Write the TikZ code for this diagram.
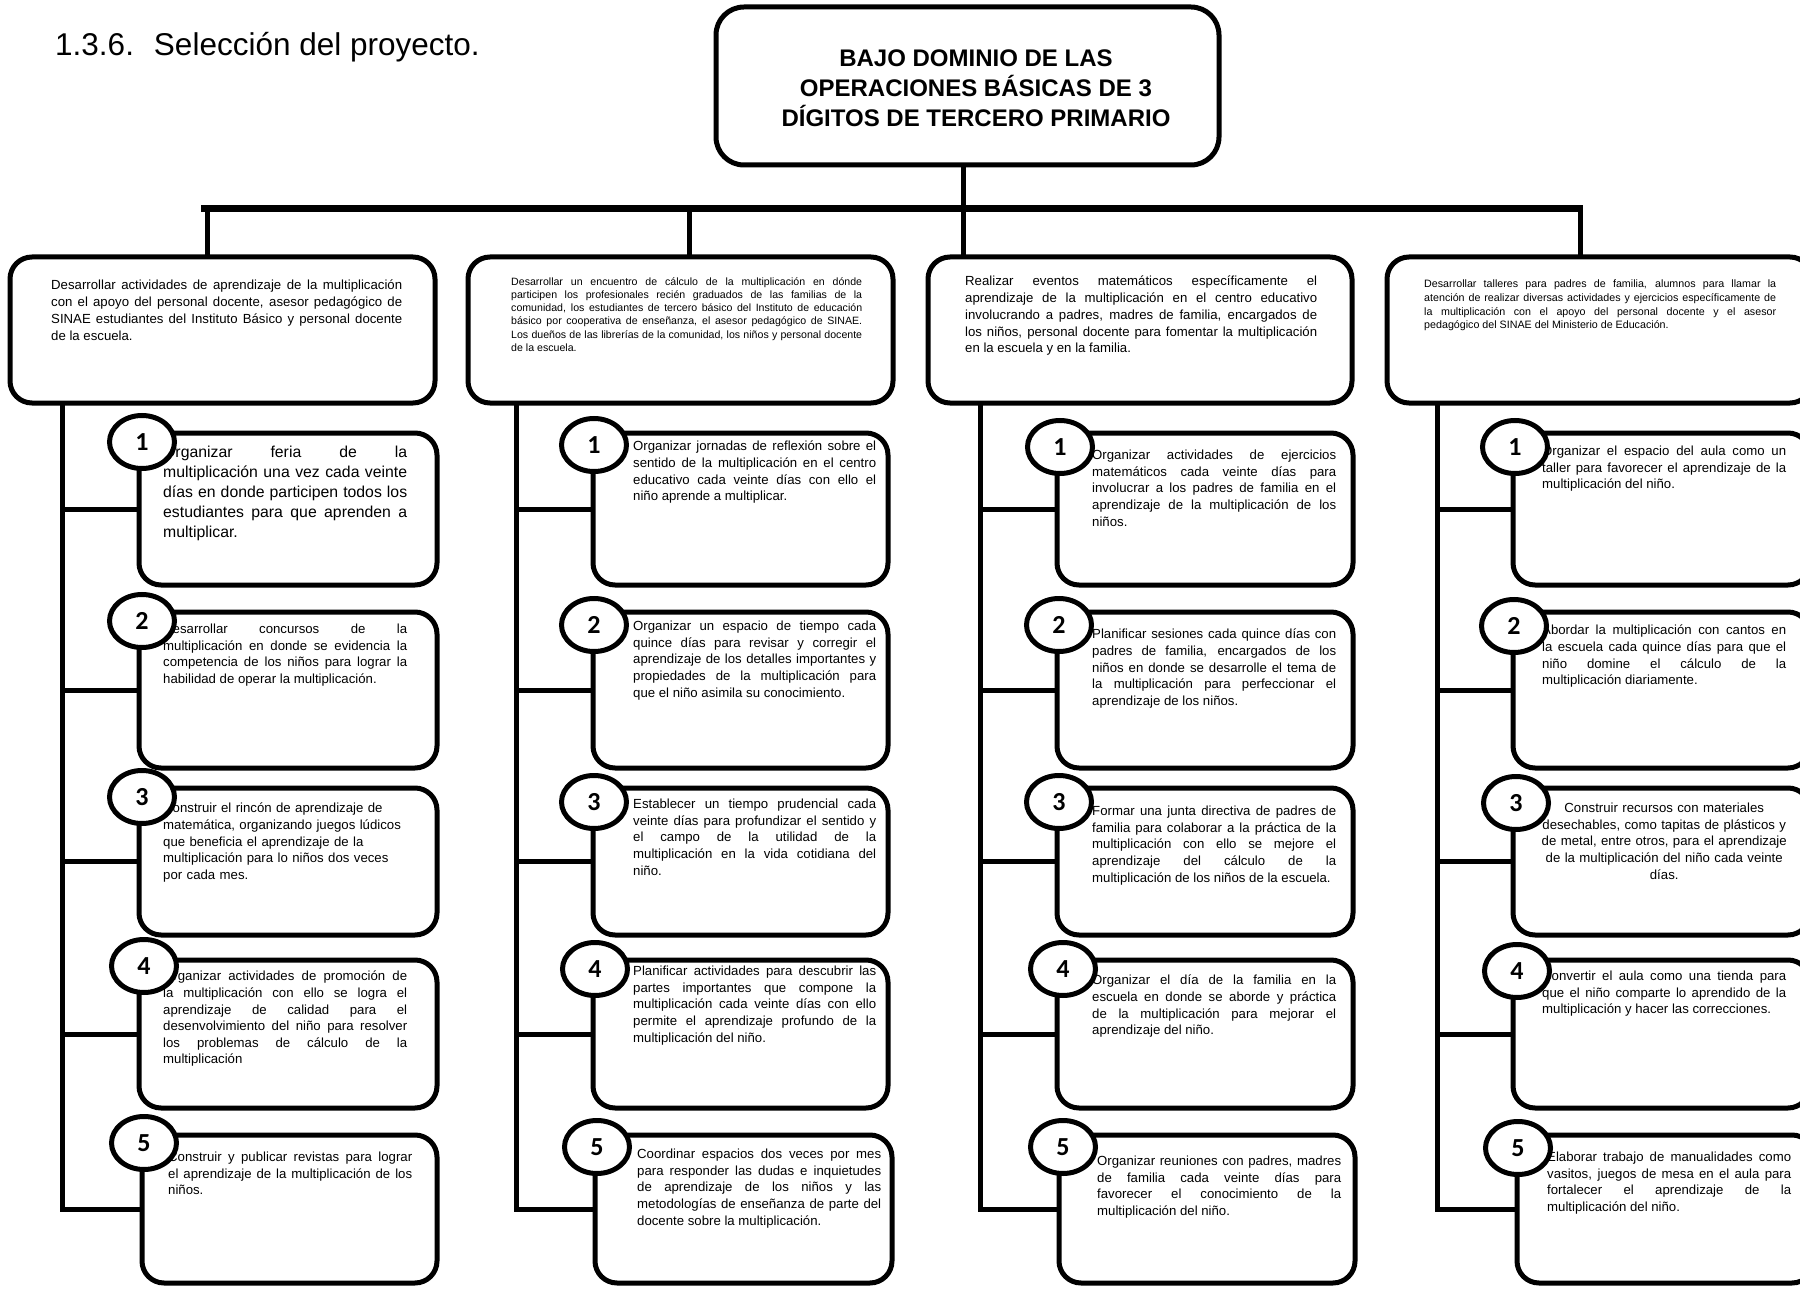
\documentclass[tikz,border=0pt]{standalone}
\usepackage{fontspec}
\setmainfont{Liberation Sans}
\newfontfamily\numfont{Carlito}
\usetikzlibrary{shapes.geometric}
\tolerance=10000
\hbadness=10000
\hfuzz=20pt
\hyphenpenalty=10000
\exhyphenpenalty=10000
\newcommand{\Lb}{\linebreak}
\tikzset{
  frame/.style={draw=black, line width=5pt, rounded corners=22pt, inner sep=0pt, outer sep=0pt, anchor=north west},
  conn/.style={draw=black, line width=5pt},
  barline/.style={draw=black, line width=7pt},
  numc/.style={ellipse, draw=black, line width=5pt, fill=white, minimum width=65pt, minimum height=53pt, inner sep=0pt, font=\numfont\bfseries\fontsize{26}{26}\selectfont},
  jtxt/.style={anchor=north west, inner sep=0pt, align=justify, text width=244pt, font=\fontsize{13.2}{16.6}\selectfont},
  btxt/.style={anchor=north west, inner sep=0pt, align=justify, text width=351pt, font=\fontsize{13.2}{16.7}\selectfont},
  stxt/.style={anchor=north west, inner sep=0pt, align=justify, text width=351pt, font=\fontsize{10.6}{13.3}\selectfont}
}
\begin{document}
\begin{tikzpicture}[x=1pt, y=-1pt]
\useasboundingbox (0,0) rectangle (1800,1297);
\fill[white] (0,0) rectangle (1800,1297);

% heading
\node[anchor=base west, inner sep=0pt, font=\fontsize{31.5}{36}\selectfont] (head) at (55,56) {1.3.6.\hspace{20pt}Selección del proyecto.};

% title
\node[frame, rounded corners=28pt, minimum width=503pt, minimum height=158pt] (title) at (716,7) {};
\node[inner sep=0pt, align=center, font=\bfseries\fontsize{24}{30}\selectfont] (ttext) at (976,88) {BAJO DOMINIO DE LAS\\OPERACIONES BÁSICAS DE 3\\DÍGITOS DE TERCERO PRIMARIO};

% bar
\coordinate (bl) at (201,209);
\coordinate (br) at (1583,209);
\coordinate (j1) at (207,209);
\coordinate (j2) at (689,209);
\coordinate (j3) at (963,209);
\coordinate (j4) at (1580,209);
\draw[conn] (title.south -| j3) -- (j3);
\draw[barline] (bl) -- (br);

% big boxes
\node[frame, minimum width=425pt, minimum height=146pt] (b1) at (10,257) {};
\node[frame, minimum width=425pt, minimum height=146pt] (b2) at (468,257) {};
\node[frame, minimum width=424pt, minimum height=146pt] (b3) at (928,257) {};
\node[frame, minimum width=425pt, minimum height=146pt] (b4) at (1387,257) {};
\draw[conn] (j1) -- (j1 |- b1.north);
\draw[conn] (j2) -- (j2 |- b2.north);
\draw[conn] (j3) -- (j3 |- b3.north);
\draw[conn] (j4) -- (j4 |- b4.north);

\node[btxt] (t1) at (51,280) {Desarrollar actividades de aprendizaje de la multiplicación\Lb con el apoyo del personal docente, asesor pedagógico de\Lb SINAE estudiantes del Instituto Básico y personal docente\Lb de la escuela.};
\node[stxt] (t2) at (511,277) {Desarrollar un encuentro de cálculo de la multiplicación en dónde\Lb participen los profesionales recién graduados de las familias de la\Lb comunidad, los estudiantes de tercero básico del Instituto de educación\Lb básico por cooperativa de enseñanza, el asesor pedagógico de SINAE.\Lb Los dueños de las librerías de la comunidad, los niños y personal docente\Lb de la escuela.};
\node[btxt, text width=352pt] (t3) at (965,276) {Realizar eventos matemáticos específicamente el\Lb aprendizaje de la multiplicación en el centro educativo\Lb involucrando a padres, madres de familia, encargados de\Lb los niños, personal docente para fomentar la multiplicación\Lb en la escuela y en la familia.};
\node[stxt, text width=352pt, font=\fontsize{10.7}{13.6}\selectfont] (t4) at (1424,280) {Desarrollar talleres para padres de familia, alumnos para llamar la\Lb atención de realizar diversas actividades y ejercicios específicamente de\Lb la multiplicación con el apoyo del personal docente y el asesor\Lb pedagógico del SINAE del Ministerio de Educación.};

% sub boxes column 1
\node[frame, minimum width=298pt, minimum height=152pt] (c11) at (139,433) {};
\node[frame, minimum width=298pt, minimum height=156pt] (c12) at (139,612) {};
\node[frame, minimum width=298pt, minimum height=147pt] (c13) at (139,788) {};
\node[frame, minimum width=298pt, minimum height=148pt] (c14) at (139,960) {};
\node[frame, minimum width=295pt, minimum height=148pt] (c15) at (142,1135) {};
% column 2
\node[frame, minimum width=295pt, minimum height=152pt] (c21) at (593,433) {};
\node[frame, minimum width=295pt, minimum height=156pt] (c22) at (593,612) {};
\node[frame, minimum width=295pt, minimum height=147pt] (c23) at (593,788) {};
\node[frame, minimum width=295pt, minimum height=148pt] (c24) at (593,960) {};
\node[frame, minimum width=297pt, minimum height=148pt] (c25) at (595,1135) {};
% column 3
\node[frame, minimum width=296pt, minimum height=152pt] (c31) at (1057,433) {};
\node[frame, minimum width=296pt, minimum height=156pt] (c32) at (1057,612) {};
\node[frame, minimum width=296pt, minimum height=147pt] (c33) at (1057,788) {};
\node[frame, minimum width=296pt, minimum height=148pt] (c34) at (1057,960) {};
\node[frame, minimum width=296pt, minimum height=148pt] (c35) at (1059,1135) {};
% column 4
\node[frame, minimum width=297pt, minimum height=152pt] (c41) at (1513,433) {};
\node[frame, minimum width=297pt, minimum height=156pt] (c42) at (1513,612) {};
\node[frame, minimum width=297pt, minimum height=147pt] (c43) at (1513,788) {};
\node[frame, minimum width=297pt, minimum height=148pt] (c44) at (1513,960) {};
\node[frame, minimum width=297pt, minimum height=148pt] (c45) at (1517,1135) {};

% spines and connectors
\coordinate (s1) at (62,403);
\coordinate (s2) at (516,403);
\coordinate (s3) at (980,403);
\coordinate (s4) at (1437,403);
\foreach \c in {1,2,3,4}{
  \draw[conn] (s\c |- b\c.south) |- (c\c5.west);
  \foreach \k in {1,2,3,4}{
    \draw[conn] (s\c |- c\c\k.west) -- (c\c\k.west);
  }
}

% texts column 1
\node[jtxt, font=\fontsize{15.8}{20}\selectfont] (x11) at (163,446) {Organizar feria de la\Lb multiplicación una vez cada veinte\Lb días en donde participen todos los\Lb estudiantes para que aprenden a\Lb multiplicar.};
\node[jtxt] (x12) at (163,624) {Desarrollar concursos de la\Lb multiplicación en donde se evidencia la\Lb competencia de los niños para lograr la\Lb habilidad de operar la multiplicación.};
\node[jtxt, align=left] (x13) at (163,803) {Construir el rincón de aprendizaje de\\matemática, organizando juegos lúdicos\\que beneficia el aprendizaje de la\\multiplicación para lo niños dos veces\\por cada mes.};
\node[jtxt] (x14) at (163,971) {Organizar actividades de promoción de\Lb la multiplicación con ello se logra el\Lb aprendizaje de calidad para el\Lb desenvolvimiento del niño para resolver\Lb los problemas de cálculo de la\Lb multiplicación};
\node[jtxt] (x15) at (168,1152) {Construir y publicar revistas para lograr\Lb el aprendizaje de la multiplicación de los\Lb niños.};
% texts column 2
\node[jtxt, text width=243pt] (x21) at (633,441) {Organizar jornadas de reflexión sobre el\Lb sentido de la multiplicación en el centro\Lb educativo cada veinte días con ello el\Lb niño aprende a multiplicar.};
\node[jtxt, text width=243pt] (x22) at (633,621) {Organizar un espacio de tiempo cada\Lb quince días para revisar y corregir el\Lb aprendizaje de los detalles importantes y\Lb propiedades de la multiplicación para\Lb que el niño asimila su conocimiento.};
\node[jtxt, text width=243pt] (x23) at (633,799) {Establecer un tiempo prudencial cada\Lb veinte días para profundizar el sentido y\Lb el campo de la utilidad de la\Lb multiplicación en la vida cotidiana del\Lb niño.};
\node[jtxt, text width=243pt] (x24) at (633,966) {Planificar actividades para descubrir las\Lb partes importantes que compone la\Lb multiplicación cada veinte días con ello\Lb permite el aprendizaje profundo de la\Lb multiplicación del niño.};
\node[jtxt, text width=244pt] (x25) at (637,1149) {Coordinar espacios dos veces por mes\Lb para responder las dudas e inquietudes\Lb de aprendizaje de los niños y las\Lb metodologías de enseñanza de parte del\Lb docente sobre la multiplicación.};
% texts column 3
\node[jtxt] (x31) at (1092,450) {Organizar actividades de ejercicios\Lb matemáticos cada veinte días para\Lb involucrar a los padres de familia en el\Lb aprendizaje de la multiplicación de los\Lb niños.};
\node[jtxt] (x32) at (1092,629) {Planificar sesiones cada quince días con\Lb padres de familia, encargados de los\Lb niños en donde se desarrolle el tema de\Lb la multiplicación para perfeccionar el\Lb aprendizaje de los niños.};
\node[jtxt] (x33) at (1092,806) {Formar una junta directiva de padres de\Lb familia para colaborar a la práctica de la\Lb multiplicación con ello se mejore el\Lb aprendizaje del cálculo de la\Lb multiplicación de los niños de la escuela.};
\node[jtxt] (x34) at (1092,975) {Organizar el día de la familia en la\Lb escuela en donde se aborde y práctica\Lb de la multiplicación para mejorar el\Lb aprendizaje del niño.};
\node[jtxt] (x35) at (1097,1156) {Organizar reuniones con padres, madres\Lb de familia cada veinte días para\Lb favorecer el conocimiento de la\Lb multiplicación del niño.};
% texts column 4
\node[jtxt] (x41) at (1542,446) {Organizar el espacio del aula como un\Lb taller para favorecer el aprendizaje de la\Lb multiplicación del niño.};
\node[jtxt] (x42) at (1542,625) {Abordar la multiplicación con cantos en\Lb la escuela cada quince días para que el\Lb niño domine el cálculo de la\Lb multiplicación diariamente.};
\node[jtxt, align=center, text width=260pt] (x43) at (1534,803) {Construir recursos con materiales\\desechables, como tapitas de plásticos y\\de metal, entre otros, para el aprendizaje\\de la multiplicación del niño cada veinte\\días.};
\node[jtxt] (x44) at (1542,971) {Convertir el aula como una tienda para\Lb que el niño comparte lo aprendido de la\Lb multiplicación y hacer las correcciones.};
\node[jtxt] (x45) at (1547,1152) {Elaborar trabajo de manualidades como\Lb vasitos, juegos de mesa en el aula para\Lb fortalecer el aprendizaje de la\Lb multiplicación del niño.};

% number circles
\node[numc] (n11) at (142,442) {1};
\node[numc] (n12) at (142,621) {2};
\node[numc] (n13) at (142,797) {3};
\node[numc] (n14) at (144,966) {4};
\node[numc] (n15) at (144,1143) {5};
\node[numc] (n21) at (594,445) {1};
\node[numc] (n22) at (594,625) {2};
\node[numc] (n23) at (594,802) {3};
\node[numc] (n24) at (595,969) {4};
\node[numc] (n25) at (597,1147) {5};
\node[numc] (n31) at (1060,447) {1};
\node[numc] (n32) at (1059,625) {2};
\node[numc] (n33) at (1059,802) {3};
\node[numc] (n34) at (1063,969) {4};
\node[numc] (n35) at (1063,1147) {5};
\node[numc] (n41) at (1515,447) {1};
\node[numc] (n42) at (1514,626) {2};
\node[numc] (n43) at (1516,803) {3};
\node[numc] (n44) at (1517,971) {4};
\node[numc] (n45) at (1518,1148) {5};
\end{tikzpicture}
\end{document}
